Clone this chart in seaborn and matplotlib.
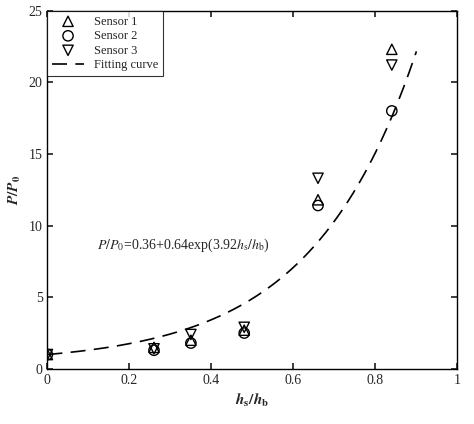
import numpy as np
import matplotlib
matplotlib.use("Agg")
import matplotlib.pyplot as plt
import seaborn as sns
import pandas as pd

sns.set_theme(style="ticks")
plt.rcParams['font.family'] = ['Liberation Serif', 'DejaVu Serif']
plt.rcParams['mathtext.fontset'] = 'stix'

x_vals = [0.0, 0.26, 0.35, 0.48, 0.66, 0.84]
sensor1 = [1.0, 1.5, 2.0, 2.7, 11.8, 22.3]
sensor2 = [1.0, 1.3, 1.8, 2.5, 11.4, 18.0]
sensor3 = [1.0, 1.4, 2.4, 2.9, 13.3, 21.2]
fit_a, fit_b, fit_c = 0.36, 0.64, 3.92
fit_x = np.linspace(0, 0.9, 200)
fit_y = fit_a + fit_b * np.exp(fit_c * fit_x)

fig, ax = plt.subplots(figsize=(4.74, 4.24), dpi=100)
fig.subplots_adjust(left=0.10, right=0.965, bottom=0.13, top=0.975)

kw = dict(s=55, facecolor='none', edgecolor='black', linewidth=1.0, ax=ax)
sns.scatterplot(x=x_vals, y=sensor1, marker='^', label='Sensor 1', **kw)
sns.scatterplot(x=x_vals, y=sensor2, marker='o', label='Sensor 2', **kw)
sns.scatterplot(x=x_vals, y=sensor3, marker='v', label='Sensor 3', **kw)
sns.lineplot(x=fit_x, y=fit_y, color='black', linewidth=1.2, ax=ax,
             label='Fitting curve', dashes=False, linestyle=(0, (9, 5)))

ax.set_xlim(0, 1)
ax.set_ylim(0, 25)
ax.set_xticks([0, 0.2, 0.4, 0.6, 0.8, 1])
ax.set_xticklabels(['0', '0.2', '0.4', '0.6', '0.8', '1'])
ax.set_yticks([0, 5, 10, 15, 20, 25])
ax.tick_params(direction='in', top=True, right=True, labelsize=10, length=4)
ax.set_xlabel(r'$\boldsymbol{h}_\mathbf{s}\mathbf{/}\boldsymbol{h}_\mathbf{b}$', fontsize=11)
ax.set_ylabel(r'$\boldsymbol{P}\mathbf{/}\boldsymbol{P}_\mathbf{0}$', fontsize=11)
for s in ax.spines.values():
    s.set_linewidth(1.0)
    s.set_color('black')
ax.text(0.12, 8.4, r'$P/P_0$=0.36+0.64exp(3.92$h_\mathrm{s}/h_\mathrm{b}$)', fontsize=10)
leg = ax.legend(loc='upper left', frameon=True, fancybox=False, edgecolor='black',
                fontsize=9, borderaxespad=0.0, handlelength=2.5, labelspacing=0.2)
leg.get_frame().set_linewidth(0.8)
fig.savefig('out.png', dpi=100)
